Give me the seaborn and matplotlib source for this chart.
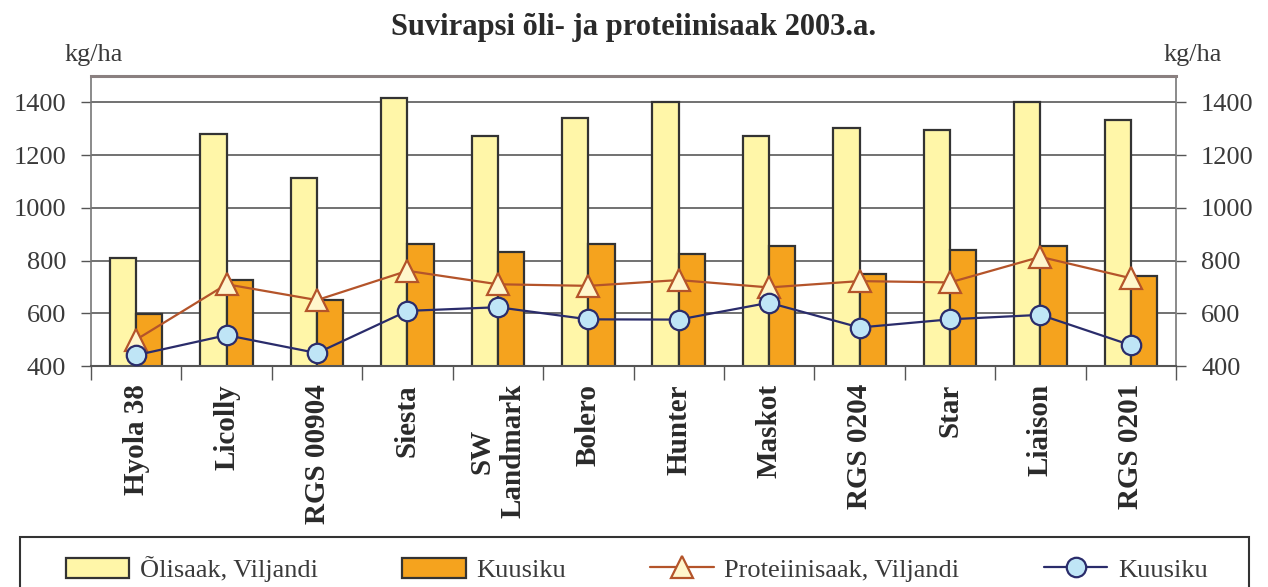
import numpy as np
import pandas as pd
import matplotlib
matplotlib.use("Agg")
import matplotlib.pyplot as plt
import seaborn as sns
from matplotlib.patches import Patch, Rectangle
from matplotlib.lines import Line2D

# ---- data ----
varieties = ["Hyola 38", "Licolly", "RGS 00904", "Siesta", "SW\nLandmark", "Bolero",
             "Hunter", "Maskot", "RGS 0204", "Star", "Liaison", "RGS 0201"]
oil_viljandi = [808, 1281, 1112, 1415, 1271, 1339, 1401, 1271, 1302, 1295, 1401, 1332]
oil_kuusiku = [598, 726, 650, 863, 832, 863, 825, 856, 749, 840, 856, 741]
protein_viljandi = [500, 710, 650, 761, 710, 704, 726, 698, 722, 717, 814, 733]
protein_kuusiku = [441, 517, 449, 609, 623, 577, 576, 640, 546, 577, 594, 479]
series_names = ["Õlisaak, Viljandi", "Kuusiku", "Proteiinisaak, Viljandi", "Kuusiku"]
yticks = [400, 600, 800, 1000, 1200, 1400]
title = "Suvirapsi õli- ja proteiinisaak 2003.a."
unit = "kg/ha"

# ---- style ----
sns.set_theme(style="white")
plt.rcParams["font.family"] = ["Liberation Serif", "DejaVu Serif"]

YELLOW = "#FFF6A8"
ORANGE = "#F5A31E"
EDGE = "#333333"
TRI_LINE = "#B4542A"
TRI_FACE = "#FFF6CC"
CIR_LINE = "#2A2C6B"
CIR_FACE = "#BFE5F6"
TXT = "#3a3a3a"

W, H = 1268, 587
fig = plt.figure(figsize=(W / 100, H / 100), dpi=100)
ax = fig.add_axes([91 / W, 1 - 366 / H, (1176 - 91) / W, (366 - 76) / H])

bar_df = pd.DataFrame({
    "variety": varieties * 2,
    "value": oil_viljandi + oil_kuusiku,
    "series": ["oil_v"] * len(varieties) + ["oil_k"] * len(varieties),
})
sns.barplot(data=bar_df, x="variety", y="value", hue="series", order=varieties,
            hue_order=["oil_v", "oil_k"], palette=[YELLOW, ORANGE], width=0.58,
            gap=0, edgecolor=EDGE, linewidth=1.6, saturation=1, legend=False, ax=ax,
            zorder=2)

sns.pointplot(x=varieties, y=protein_viljandi, order=varieties, color=TRI_LINE,
              markers="^", linestyles="-", linewidth=1.6, markersize=16,
              markerfacecolor=TRI_FACE, markeredgecolor=TRI_LINE, markeredgewidth=1.6,
              errorbar=None, ax=ax, zorder=4)
sns.pointplot(x=varieties, y=protein_kuusiku, order=varieties, color=CIR_LINE,
              markers="o", linestyles="-", linewidth=1.6, markersize=14,
              markerfacecolor=CIR_FACE, markeredgecolor=CIR_LINE, markeredgewidth=1.6,
              errorbar=None, ax=ax, zorder=5)

ax.set_xlim(-0.5, len(varieties) - 0.5)
ax.set_ylim(400, 1500)
ax.set_yticks(yticks)
ax.set_yticklabels([str(t) for t in yticks])
ax.set_xlabel("")
ax.set_ylabel("")

ax.yaxis.grid(True, color="#4a4a4a", linewidth=1.1)
ax.xaxis.grid(False)
ax.set_axisbelow(True)

ax.tick_params(axis="y", left=True, right=True, labelleft=True, labelright=True,
               direction="out", length=7, width=1, color="#555555", pad=11,
               labelsize=19, labelcolor=TXT)
ax.set_xticks(np.arange(len(varieties)))
ax.set_xticklabels(varieties, rotation=90, fontweight="bold", fontsize=21,
                   color="#2a2a2a", va="top", ha="center")
ax.tick_params(axis="x", which="major", length=0, pad=13)
ax.set_xticks(np.arange(-0.5, len(varieties), 1), minor=True)
ax.tick_params(axis="x", which="minor", bottom=True, direction="out", length=10,
               width=1, color="#555555")

for side in ["left", "right"]:
    ax.spines[side].set_color("#777777")
    ax.spines[side].set_linewidth(1.2)
ax.spines["bottom"].set_color("#555555")
ax.spines["bottom"].set_linewidth(1.5)
ax.spines["top"].set_color("#8a8080")
ax.spines["top"].set_linewidth(2.2)

fig.text(0.5, 1 - 28 / H, title, ha="center", va="center", fontsize=22,
         fontweight="bold", color="#2a2a2a")
fig.text(94 / W, 1 - 55 / H, unit, ha="center", va="center", fontsize=19, color=TXT)
fig.text(1193 / W, 1 - 55 / H, unit, ha="center", va="center", fontsize=19, color=TXT)

# legend
handles = [
    Patch(facecolor=YELLOW, edgecolor=EDGE, linewidth=1.6),
    Patch(facecolor=ORANGE, edgecolor=EDGE, linewidth=1.6),
    Line2D([], [], color=TRI_LINE, marker="^", markersize=16, markerfacecolor=TRI_FACE,
           markeredgecolor=TRI_LINE, linewidth=1.6, markeredgewidth=1.6),
    Line2D([], [], color=CIR_LINE, marker="o", markersize=14, markerfacecolor=CIR_FACE,
           markeredgecolor=CIR_LINE, linewidth=1.6, markeredgewidth=1.6),
]
leg = fig.legend(handles, series_names, loc="center left",
                 bbox_to_anchor=(66 / W, 1 - 569 / H), ncol=4, frameon=False,
                 fontsize=19, handlelength=2.4, handleheight=0.8, handletextpad=0.4,
                 columnspacing=3.2, borderaxespad=0, borderpad=0)
for t in leg.get_texts():
    t.set_color(TXT)
fig.patches.append(Rectangle((20 / W, -0.05), (1249 - 20) / W, 0.05 + 1 - 537 / H,
                             transform=fig.transFigure, fill=False, edgecolor="#333333",
                             linewidth=1.5, zorder=0))

fig.savefig("out.png", dpi=100)
